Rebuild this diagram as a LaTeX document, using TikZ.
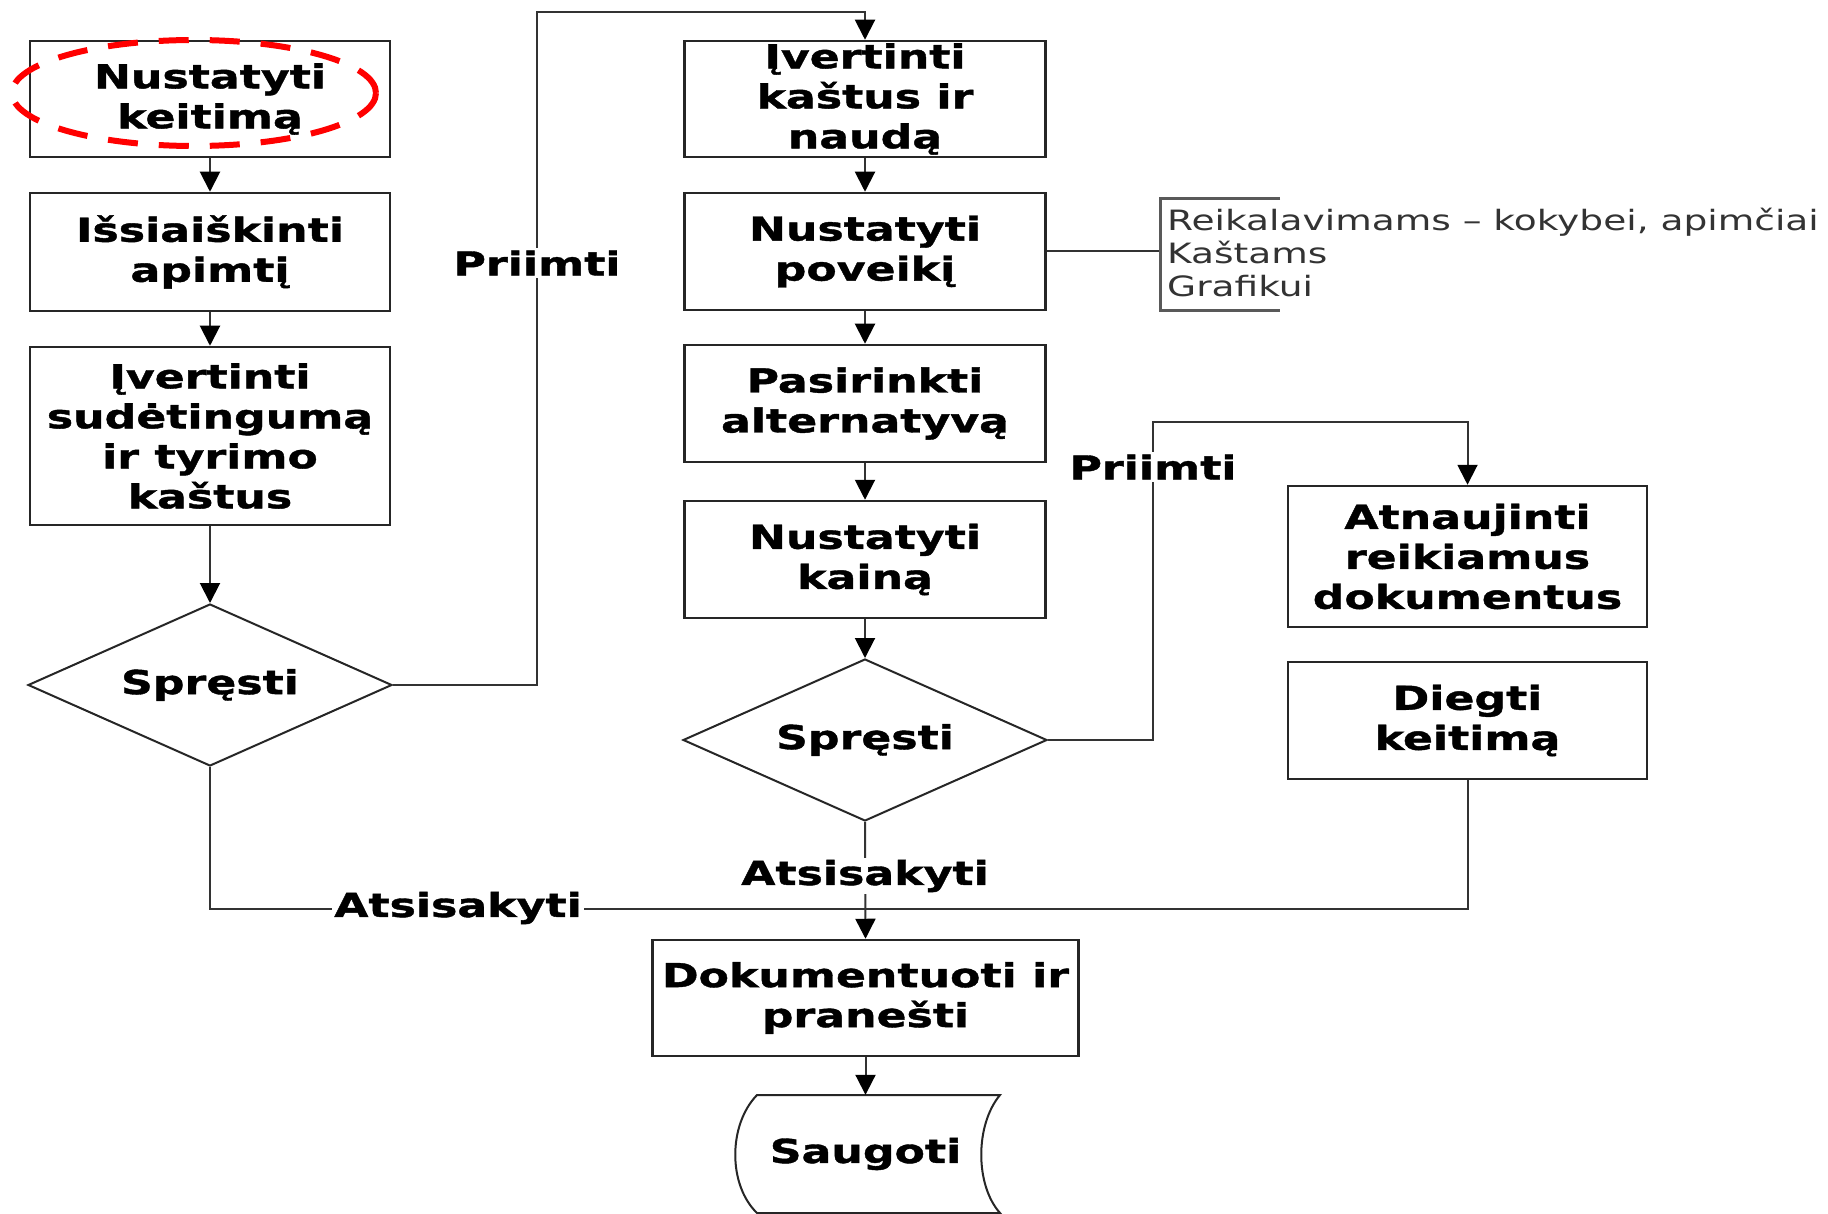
\documentclass[tikz,border=0pt]{standalone}
\usepackage{fontspec}
\setmainfont{DejaVu Sans}[FakeStretch=1.34, BoldFeatures={FakeBold=1.2}]
\usetikzlibrary{shapes.geometric,arrows.meta}
\newcommand\bfbox{\fontsize{33}{40}\selectfont\bfseries}
\newcommand\smtext{\fontsize{28}{33}\selectfont}
\begin{document}
\begin{tikzpicture}[x=1pt,y=-1pt,
 box/.style={draw=black!85, line width=2.5pt, fill=white, align=center, font=\bfbox, inner sep=0pt, minimum width=360pt},
 dec/.style={diamond, draw=black!85, line width=2pt, fill=white, font=\bfbox, inner sep=0pt, shape aspect=2.25, minimum width=364pt, minimum height=162pt},
 conn/.style={draw=black!80, line width=2pt},
 arr/.style={conn, -{Triangle[width=20pt,length=20pt,fill=black,color=black]}},
 lbl/.style={fill=white, font=\bfbox, inner sep=2pt},
 brk/.style={draw=black!65, line width=3pt},
 hilite/.style={ellipse, draw=red, line width=6pt, dash pattern=on 30pt off 21pt, minimum width=364pt, minimum height=106pt, inner sep=0pt}]
\useasboundingbox (0,0) rectangle (1828,1214);
\fill[white] (0,0) rectangle (1828,1214);

% left column
\node[box, minimum height=116pt] (b1) at (210,99) {Nustatyti\\keitimą};
\node[box, minimum height=118pt] (b2) at (210,252) {Išsiaiškinti\\apimtį};
\node[box, minimum height=178pt] (b3) at (210,436) {Įvertinti\\sudėtingumą\\ir tyrimo\\kaštus};
\node[dec] (d1) at (210,685) {Spręsti};
\node[hilite] (hl) at (194,93) {};

% middle column
\node[box, minimum height=116pt, minimum width=361pt] (m1) at (865,99) {Įvertinti\\kaštus ir\\naudą};
\node[box, minimum height=117pt, minimum width=361pt] (m2) at (865,251.5) {Nustatyti\\poveikį};
\node[box, minimum height=117pt, minimum width=361pt] (m3) at (865,403.5) {Pasirinkti\\alternatyvą};
\node[box, minimum height=117pt, minimum width=361pt] (m4) at (865,559.5) {Nustatyti\\kainą};
\node[dec] (d2) at (865,740) {Spręsti};

% right column
\node[box, minimum height=141pt, minimum width=359pt] (r1) at (1467.5,556.5) {Atnaujinti\\reikiamus\\dokumentus};
\node[box, minimum height=117pt, minimum width=359pt] (r2) at (1467.5,720.5) {Diegti\\keitimą};

% bottom
\node[box, minimum height=116pt, minimum width=426pt] (doc) at (865.5,998) {Dokumentuoti ir\\pranešti};
\draw[draw=black!85, line width=2pt, fill=white] (757,1095) -- (1000,1095) .. controls (975,1125) and (975,1185) .. (1000,1213) -- (757,1213) .. controls (728,1185) and (728,1125) .. (757,1095) -- cycle;
\node[font=\bfbox, minimum height=118pt, inner sep=0pt] (sg) at (865.5,1154) {Saugoti};

% connectors
\draw[arr] (b1.south) -- (b2.north);
\draw[arr] (b2.south) -- (b3.north);
\draw[arr] (b3.south) -- (d1.north);
\draw[arr] (d1.east) -- (537,685) -- (537,12) -| (m1.north);
\draw[arr] (m1.south) -- (m2.north);
\draw[arr] (m2.south) -- (m3.north);
\draw[arr] (m3.south) -- (m4.north);
\draw[arr] (m4.south) -- (d2.north);
\draw[arr] (d2.east) -- (1153,740) -- (1153,422) -| (r1.north);
\draw[arr] (d2.south) -- (doc.north);
\draw[conn] (d1.south) |- (865,909);
\draw[conn] (r2.south) |- (865,909);
\draw[arr] (doc.south) -- (sg.north);

% labels
\node[lbl] (p1) at (537,263) {Priimti};
\node[lbl] (p2) at (1153,467) {Priimti};
\node[lbl] (a1) at (458,908) {Atsisakyti};
\node[lbl] (a2) at (865,876) {Atsisakyti};

% annotation
\coordinate (br) at (1160,251.5);
\draw[conn] (m2.east) -- (br);
\draw[brk] (1280,199) -- (1160,199) -- (1160,311) -- (1280,311);
\node[anchor=west, align=left, font=\smtext, text=black!80, inner sep=0pt] (ann) at (1167,253) {Reikalavimams – kokybei, apimčiai\\Kaštams\\Grafikui};
\end{tikzpicture}
\end{document}
